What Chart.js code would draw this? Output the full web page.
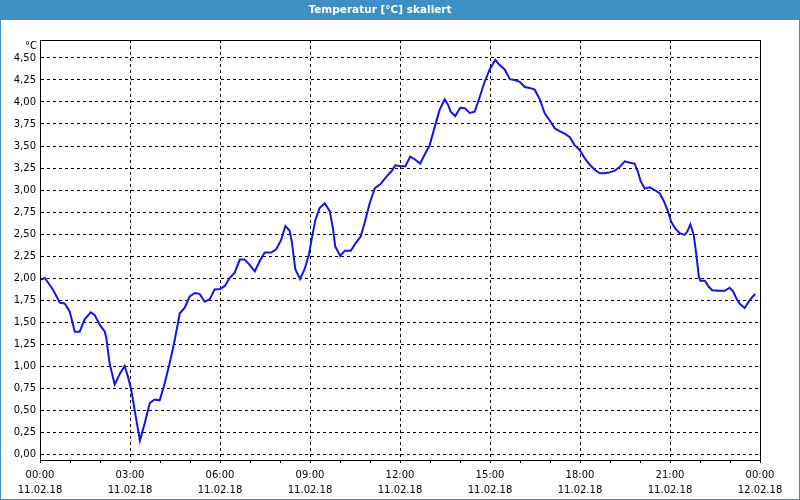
<!DOCTYPE html>
<html><head><meta charset="utf-8">
<script src="https://cdn.jsdelivr.net/npm/chart.js@4"></script>
<style>html,body{margin:0;padding:0;background:#fff;}canvas{display:block;}</style>
</head><body>
<canvas id="c" width="800" height="500"></canvas>
<script>
const chartTitle = 'Temperatur [°C] skaliert';
const unitLabel = '°C';

// time of day in hours since 00:00 on 11.02.18
const hours = [0.00,0.16,0.43,0.66,0.82,0.99,1.16,1.32,1.49,1.69,1.82,1.99,2.16,2.21,2.32,2.49,2.66,2.82,2.93,3.04,3.19,3.33,3.49,3.66,3.82,3.99,4.13,4.30,4.47,4.66,4.82,4.99,5.16,5.32,5.49,5.66,5.82,6.00,6.16,6.32,6.49,6.66,6.82,6.99,7.16,7.32,7.49,7.71,7.88,8.04,8.18,8.32,8.40,8.51,8.67,8.82,8.96,9.07,9.18,9.32,9.49,9.66,9.77,9.84,10.01,10.16,10.36,10.51,10.69,10.82,10.99,11.16,11.36,11.54,11.71,11.84,12.04,12.18,12.34,12.49,12.67,12.82,12.99,13.16,13.32,13.49,13.60,13.69,13.84,14.01,14.16,14.32,14.49,14.66,14.82,14.99,15.18,15.32,15.49,15.66,15.82,15.99,16.16,16.32,16.49,16.66,16.82,16.99,17.16,17.32,17.49,17.66,17.82,18.00,18.16,18.32,18.49,18.66,18.82,18.99,19.16,19.32,19.49,19.66,19.82,19.93,20.02,20.16,20.32,20.49,20.66,20.80,20.93,21.04,21.18,21.32,21.49,21.58,21.68,21.79,21.88,21.96,22.01,22.16,22.29,22.41,22.60,22.82,22.99,23.10,23.21,23.32,23.49,23.62,23.71,23.84];
const temps = [1.98,2.00,1.87,1.72,1.71,1.62,1.39,1.39,1.53,1.61,1.58,1.47,1.39,1.32,1.03,0.79,0.91,1.00,0.88,0.73,0.43,0.155,0.35,0.58,0.62,0.61,0.77,1.00,1.26,1.60,1.66,1.79,1.83,1.82,1.73,1.76,1.87,1.875,1.91,2.00,2.06,2.21,2.21,2.15,2.075,2.19,2.29,2.29,2.33,2.435,2.59,2.54,2.40,2.10,1.99,2.10,2.26,2.47,2.66,2.795,2.85,2.76,2.55,2.36,2.25,2.31,2.31,2.39,2.47,2.625,2.85,3.02,3.07,3.15,3.21,3.28,3.27,3.27,3.38,3.35,3.30,3.40,3.51,3.72,3.91,4.03,3.97,3.89,3.84,3.935,3.93,3.875,3.89,4.06,4.23,4.37,4.48,4.42,4.37,4.26,4.25,4.23,4.17,4.16,4.14,4.03,3.875,3.79,3.70,3.67,3.64,3.60,3.51,3.45,3.36,3.29,3.23,3.19,3.19,3.20,3.22,3.26,3.325,3.31,3.30,3.21,3.10,3.015,3.03,3.00,2.96,2.87,2.76,2.64,2.56,2.51,2.49,2.53,2.61,2.49,2.26,2.02,1.97,1.97,1.90,1.86,1.855,1.855,1.89,1.85,1.77,1.71,1.66,1.73,1.77,1.82];

const yTicks = [0,0.25,0.5,0.75,1,1.25,1.5,1.75,2,2.25,2.5,2.75,3,3.25,3.5,3.75,4,4.25,4.5];
const xMinorTicks = [0,1,2,3,4,5,6,7,8,9,10,11,12,13,14,15,16,17,18,19,20,21,22,23,24];
const xTickHours = [0,3,6,9,12,15,18,21,24];
const xTimeLabels = ['00:00','03:00','06:00','09:00','12:00','15:00','18:00','21:00','00:00'];
const xDateLabels = ['11.02.18','11.02.18','11.02.18','11.02.18','11.02.18','11.02.18','11.02.18','11.02.18','12.02.18'];

const FONT = 'DejaVu Sans';
const BLUE = '#3d8fc4';

const framePlugin = {
  id: 'frame',
  beforeDraw(chart) {
    const ctx = chart.ctx;
    ctx.save();
    ctx.fillStyle = '#ffffff';
    ctx.fillRect(0, 0, chart.width, chart.height);
    ctx.fillStyle = BLUE;
    ctx.fillRect(0, 0, chart.width, 20);
    ctx.restore();
  },
  afterDraw(chart) {
    const ctx = chart.ctx;
    const a = chart.chartArea;
    ctx.save();
    ctx.strokeStyle = '#000';
    ctx.lineWidth = 1;
    ctx.strokeRect(Math.round(a.left) + 0.5, Math.round(a.top) + 0.5, Math.round(a.right - a.left), Math.round(a.bottom - a.top));
    ctx.fillStyle = '#000';
    ctx.font = '10px "' + FONT + '"';
    ctx.textAlign = 'right';
    ctx.textBaseline = 'middle';
    ctx.fillText(unitLabel, a.left - 3, a.top + 6);
    ctx.strokeStyle = BLUE;
    ctx.lineWidth = 2;
    ctx.strokeRect(0, 0, chart.width, chart.height);
    ctx.restore();
  }
};

new Chart(document.getElementById('c'), {
  type: 'line',
  data: {
    datasets: [{
      data: hours.map((h, i) => ({x: h, y: temps[i]})),
      borderColor: '#1414e6',
      borderWidth: 2,
      pointRadius: 0,
      tension: 0,
      fill: false
    }]
  },
  options: {
    responsive: false,
    devicePixelRatio: 1,
    animation: false,
    layout: {padding: {left: 0, right: 40, top: 0, bottom: 0}},
    plugins: {
      legend: {display: false},
      tooltip: {enabled: false},
      title: {
        display: true,
        text: chartTitle,
        color: '#ffffff',
        font: {family: FONT, size: 10.5, weight: 'bold', lineHeight: '14px'},
        padding: {top: 3, bottom: 23}
      }
    },
    scales: {
      x: {
        type: 'linear',
        min: 0,
        max: 24,
        afterBuildTicks(scale) { scale.ticks = xMinorTicks.map(v => ({value: v})); },
        afterFit(scale) { scale.height = 40; },
        grid: {
          color: (c) => (c.tick && xTickHours.includes(c.tick.value)) ? '#000' : 'rgba(0,0,0,0)',
          tickColor: '#000',
          lineWidth: 1,
          tickLength: 3,
          drawTicks: true
        },
        border: {display: true, color: '#000', width: 1, dash: [3, 3]},
        ticks: {
          autoSkip: false,
          maxRotation: 0,
          minRotation: 0,
          padding: 5,
          color: '#000',
          font: {family: FONT, size: 10, lineHeight: 1.5},
          callback(value) {
            const i = xTickHours.indexOf(value);
            return i >= 0 ? [xTimeLabels[i], xDateLabels[i]] : '';
          }
        }
      },
      y: {
        type: 'linear',
        min: -0.068,
        max: 4.7045,
        afterBuildTicks(scale) { scale.ticks = yTicks.map(v => ({value: v})); },
        afterFit(scale) { scale.width = 40; },
        grid: {color: '#000', lineWidth: 1, drawTicks: false},
        border: {display: true, color: '#000', width: 1, dash: [3, 3]},
        ticks: {
          padding: 4,
          color: '#000',
          font: {family: FONT, size: 10},
          callback(value) { return value.toFixed(2).replace('.', ','); }
        }
      }
    }
  },
  plugins: [framePlugin]
});
</script>
</body></html>
